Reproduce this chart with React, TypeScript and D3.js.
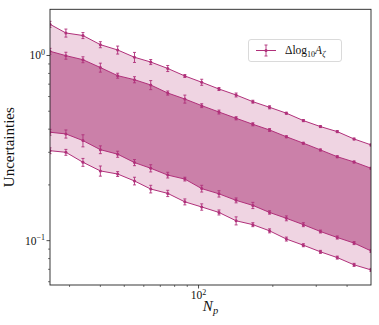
import React from "react";
import * as d3 from "d3";

const Np = [25, 29, 34, 40, 47, 55, 64, 75, 88, 103, 121, 142, 166, 194, 227, 266, 312, 365, 427, 500];

const upper95 = [1.474, 1.323, 1.282, 1.144, 1.071, 0.978, 0.922, 0.851, 0.775, 0.717, 0.659, 0.612, 0.563, 0.525, 0.488, 0.445, 0.413, 0.388, 0.354, 0.329];
const upper95Err = [0.055, 0.066, 0.048, 0.043, 0.053, 0.061, 0.029, 0.032, 0.014, 0.027, 0.012, 0.015, 0.01, 0.01, 0.006, 0.006, 0.005, 0.005, 0.004, 0.004];

const upper68 = [1.054, 0.998, 0.949, 0.861, 0.778, 0.74, 0.693, 0.627, 0.582, 0.536, 0.495, 0.458, 0.425, 0.396, 0.364, 0.336, 0.309, 0.284, 0.266, 0.246];
const upper68Err = [0.039, 0.043, 0.035, 0.048, 0.024, 0.028, 0.039, 0.016, 0.029, 0.013, 0.012, 0.009, 0.008, 0.007, 0.0045, 0.004, 0.0038, 0.0035, 0.0033, 0.003];

const lower68 = [0.385, 0.377, 0.347, 0.31, 0.293, 0.264, 0.246, 0.226, 0.215, 0.191, 0.179, 0.165, 0.155, 0.142, 0.132, 0.122, 0.112, 0.104, 0.097, 0.088];
const lower68Err = [0.014, 0.019, 0.026, 0.015, 0.011, 0.01, 0.011, 0.008, 0.005, 0.008, 0.007, 0.005, 0.006, 0.003, 0.004, 0.003, 0.002, 0.002, 0.0018, 0.0016];

const lower95 = [0.306, 0.3, 0.265, 0.238, 0.229, 0.21, 0.19, 0.18, 0.162, 0.152, 0.142, 0.128, 0.122, 0.113, 0.102, 0.0945, 0.087, 0.081, 0.074, 0.0695];
const lower95Err = [0.011, 0.011, 0.013, 0.015, 0.007, 0.01, 0.009, 0.007, 0.006, 0.006, 0.0044, 0.0064, 0.003, 0.0028, 0.0025, 0.0018, 0.0016, 0.0015, 0.0014, 0.0013];

const xMajorTicks = [100];
const xMinorTicks = [30, 40, 50, 60, 70, 80, 90, 200, 300, 400];
const yMajorTicks = [1, 0.1];
const yMajorExp = ["0", "\u22121"];
const yMinorTicks = [0.06, 0.07, 0.08, 0.09, 0.2, 0.3, 0.4, 0.5, 0.6, 0.7, 0.8, 0.9];

const W = 379;
const H = 325;
const L = 50, R = 371, T = 9.3, B = 285;
const LINE = "#b0307a";
const DARK = "#cb80a9";
const LIGHT = "#efd4e2";
const FONT = "'Liberation Serif', 'DejaVu Serif', serif";

export default function App() {
  const x = d3.scaleLog().domain([25, 500]).range([L, R]);
  const y = d3.scaleLog().domain([0.0576, 1.776]).range([B, T]);

  const band = (hi: number[], lo: number[]) =>
    d3.area<number>()
      .x((_, i) => x(Np[i]))
      .y0((_, i) => y(lo[i]))
      .y1((_, i) => y(hi[i]))(Np) as string;

  const line = (vals: number[]) =>
    d3.line<number>().x((_, i) => x(Np[i])).y((v) => y(v))(vals) as string;

  const series = [
    { v: upper95, e: upper95Err },
    { v: upper68, e: upper68Err },
    { v: lower68, e: lower68Err },
    { v: lower95, e: lower95Err },
  ];

  return (
    <div style={{ position: "absolute", left: 0, top: 0 }}>
      <svg width={W} height={H} style={{ display: "block", background: "#fff" }}>
        <defs>
          <clipPath id="clip">
            <rect x={L} y={T} width={R - L} height={B - T} />
          </clipPath>
        </defs>
        <g clipPath="url(#clip)">
          <path d={band(upper95, lower95)} fill={LIGHT} />
          <path d={band(upper68, lower68)} fill={DARK} />
          {series.map((s, k) => (
            <g key={k}>
              <path d={line(s.v)} fill="none" stroke={LINE} strokeWidth={1} />
              {s.v.map((v, i) => {
                const cx = x(Np[i]);
                const y1 = y(v + s.e[i]);
                const y2 = y(v - s.e[i]);
                return (
                  <g key={i} stroke={LINE} strokeWidth={0.9}>
                    <line x1={cx} x2={cx} y1={y1} y2={y2} />
                    <line x1={cx - 1.5} x2={cx + 1.5} y1={y1} y2={y1} />
                    <line x1={cx - 1.5} x2={cx + 1.5} y1={y2} y2={y2} />
                    <circle cx={cx} cy={y(v)} r={1.5} fill={LINE} stroke="none" />
                  </g>
                );
              })}
            </g>
          ))}
        </g>

        {/* frame */}
        <rect x={L} y={T} width={R - L} height={B - T} fill="none" stroke="#222" strokeWidth={0.9} />

        {/* x ticks */}
        {xMajorTicks.map((t) => (
          <g key={"xM" + t}>
            <line x1={x(t)} x2={x(t)} y1={B} y2={B + 3.5} stroke="#222" strokeWidth={0.8} />
            <text x={x(t)} y={B + 14} textAnchor="middle" fontFamily={FONT} fontSize={11.5} fill="#111">
              10<tspan dy={-4.5} fontSize={8}>2</tspan>
            </text>
          </g>
        ))}
        {xMinorTicks.map((t) => (
          <line key={"xm" + t} x1={x(t)} x2={x(t)} y1={B} y2={B + 2} stroke="#222" strokeWidth={0.6} />
        ))}

        {/* y ticks */}
        {yMajorTicks.map((t, i) => (
          <g key={"yM" + t}>
            <line x1={L - 3.5} x2={L} y1={y(t)} y2={y(t)} stroke="#222" strokeWidth={0.8} />
            <text x={L - 5} y={y(t) + 4} textAnchor="end" fontFamily={FONT} fontSize={11.5} fill="#111">
              10<tspan dy={-4.5} fontSize={8}>{yMajorExp[i]}</tspan>
            </text>
          </g>
        ))}
        {yMinorTicks.map((t) => (
          <line key={"ym" + t} x1={L - 2} x2={L} y1={y(t)} y2={y(t)} stroke="#222" strokeWidth={0.6} />
        ))}

        {/* axis labels */}
        <text
          transform={`translate(14,${(T + B) / 2}) rotate(-90)`}
          textAnchor="middle"
          fontFamily={FONT}
          fontSize={15}
          fill="#111"
        >
          Uncertainties
        </text>
        <text x={(L + R) / 2} y={311} textAnchor="middle" fontFamily={FONT} fontSize={15} fill="#111">
          <tspan fontStyle="italic">N</tspan>
          <tspan dy={3} fontSize={10.5} fontStyle="italic">p</tspan>
        </text>

        {/* legend */}
        <rect x={248.5} y={39.5} width={93} height={22} rx={2.5} fill="#fff" fillOpacity={0.8} stroke="#d0d0d0" strokeWidth={0.8} />
        <g stroke={LINE} strokeWidth={0.9}>
          <line x1={256} x2={276} y1={50.5} y2={50.5} strokeWidth={1} />
          <line x1={266} x2={266} y1={45} y2={56} />
          <line x1={264.5} x2={267.5} y1={45} y2={45} />
          <line x1={264.5} x2={267.5} y1={56} y2={56} />
          <circle cx={266} cy={50.5} r={1.5} fill={LINE} stroke="none" />
        </g>
        <text x={285} y={54} fontFamily={FONT} fontSize={11.5} fill="#111">
          Δlog<tspan dy={2.5} fontSize={8}>10</tspan>
          <tspan dy={-2.5} fontStyle="italic">A</tspan>
          <tspan dy={2.5} fontSize={8} fontStyle="italic">ζ</tspan>
        </text>
      </svg>
    </div>
  );
}
